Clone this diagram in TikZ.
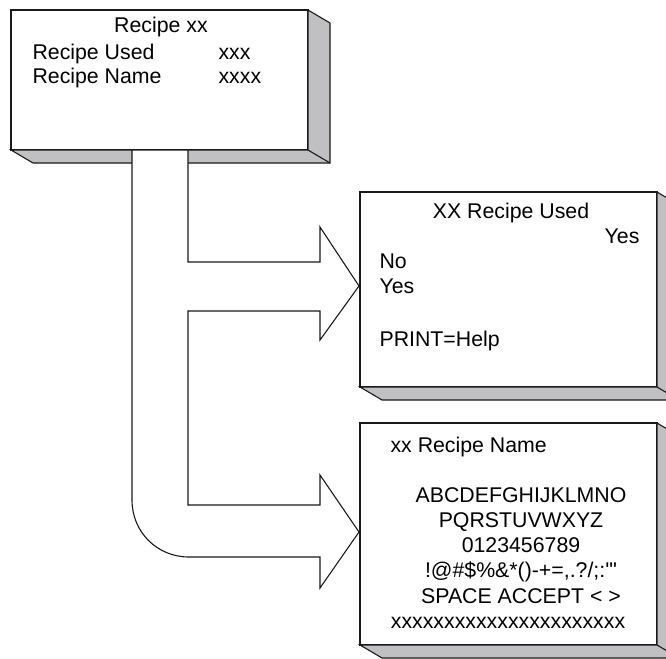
\documentclass[tikz,border=0pt]{standalone}
\usepackage{fontspec}
\setmainfont{Liberation Sans}
\usetikzlibrary{calc}
\definecolor{cside}{HTML}{C0C0C2}
\definecolor{cline}{HTML}{1A1A1A}
\tikzset{
  every picture/.style={x=1pt, y=-1pt, line width=1.1pt},
  face/.style={draw=cline, fill=white, anchor=north west, inner sep=0pt, outer sep=0pt, minimum width=297pt},
  side/.style={draw=cline, fill=cside},
  flow/.style={draw=cline, fill=white},
  lbl/.style={font=\fontsize{21.3}{25}\selectfont, inner sep=0pt},
}
% extruded right and bottom faces of a screen box
\newcommand{\slab}[1]{%
  \draw[side] (#1.north east) -- ++(22,13) -- ($(#1.south east)+(22,13)$) -- ($(#1.south west)+(22,13)$) -- (#1.south west) -- (#1.south east) -- cycle;
  \draw[side] (#1.south east) -- ++(22,13);}

\begin{document}
\begin{tikzpicture}
  \useasboundingbox (0,0) rectangle (666,658);
  \clip (0,0) rectangle (666,658);
  % screens
  \node[face, minimum height=140pt] (main) at (11,10) {};
  \node[face, minimum height=195pt] (used) at (360,192) {};
  \node[face, minimum height=222pt] (name) at (360,423) {};
  \slab{main} \slab{used} \slab{name}
  % branching block arrow
  \draw[flow] (132,150) -- (188,150) -- (188,262) -- (320,262) -- (320,227) -- (359,286) -- (320,340) -- (320,311)
    -- (188,311) -- (188,505) -- (320,505) -- (320,475) -- (359,532) -- (320,588) -- (320,557)
    -- (189,557) .. controls (157,557) and (132,532) .. (132,500) -- cycle;
  % main screen
  \node[lbl, anchor=base] (mtitle) at (161,33) {Recipe xx};
  \node[lbl, anchor=base west] (mused) at (32,60) {Recipe Used};
  \node[lbl, anchor=base west] (musedv) at (218,60) {xxx};
  \node[lbl, anchor=base west] (mname) at (32,84) {Recipe Name};
  \node[lbl, anchor=base west] (mnamev) at (218,84) {xxxx};
  % recipe used screen
  \node[lbl, anchor=base] (utitle) at (511,218) {XX Recipe Used};
  \node[lbl, anchor=base east] (ucur) at (640,243) {Yes};
  \node[lbl, anchor=base west] (uno) at (379,268) {No};
  \node[lbl, anchor=base west] (uyes) at (379,293) {Yes};
  \node[lbl, anchor=base west] (uhelp) at (379,346) {PRINT=Help};
  % recipe name screen
  \node[lbl, anchor=base west] (ntitle) at (390,452) {xx Recipe Name};
  \foreach \t [count=\i] in {ABCDEFGHIJKLMNO, PQRSTUVWXYZ, 0123456789,
      {!@\#\$\%\&*()-+=,.?/;:\textquotesingle\textquotedbl}, {SPACE ACCEPT < >}}
    \node[lbl, anchor=base] (nline\i) at (521,{477+25.2*\i}) {\t};
  \node[lbl, anchor=base] (nvalue) at (508,628) {xxxxxxxxxxxxxxxxxxxxxx};
\end{tikzpicture}
\end{document}
